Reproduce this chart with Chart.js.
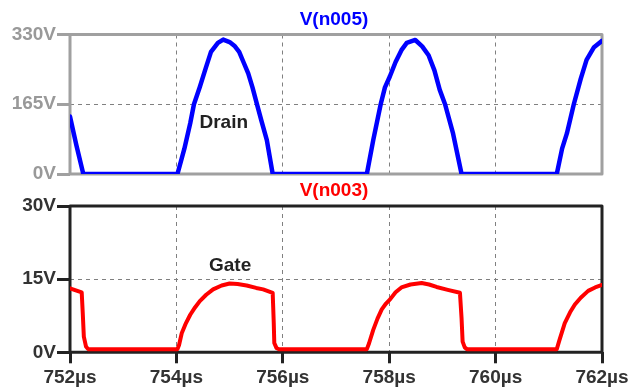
<!DOCTYPE html>
<html>
<head>
<meta charset="utf-8">
<script src="https://cdn.jsdelivr.net/npm/chart.js@4.4.1/dist/chart.umd.min.js"></script>
<style>
  html, body { margin: 0; padding: 0; background: #fff; }
  #wrap { position: relative; width: 629px; height: 391px; overflow: hidden; background: #fff; }
  canvas { position: absolute; left: 0; }
  #drainCanvas { top: 0; }
  #gateCanvas { top: 170px; }
</style>
</head>
<body>
<div id="wrap">
  <canvas id="drainCanvas" width="629" height="190"></canvas>
  <canvas id="gateCanvas" width="629" height="221"></canvas>
</div>
<script>
// Time axis (µs)
const timeTicks = [752, 754, 756, 758, 760, 762];

// V(n005) — drain voltage
const drainTime = [
  752.00, 752.12, 752.25, 754.02, 754.15, 754.26, 754.33, 754.44, 754.55, 754.65,
  754.78, 754.88, 755.00, 755.10, 755.18, 755.27, 755.35, 755.43, 755.51, 755.60,
  755.70, 755.81, 757.58, 757.70, 757.84, 757.92, 758.01, 758.12, 758.23, 758.33,
  758.49, 758.62, 758.74, 758.85, 758.95, 759.05, 759.20, 759.36, 761.15, 761.25,
  761.34, 761.47, 761.60, 761.71, 761.85, 762.00
];
const drainVolts = [
  136, 68, 0, 0, 60, 120, 165, 206, 250, 289,
  310, 318, 312, 302, 289, 262, 238, 205, 167, 125,
  80, 0, 0, 80, 165, 205, 230, 265, 293, 310,
  317, 302, 281, 245, 199, 165, 96, 0, 0, 60,
  96, 165, 225, 270, 300, 315
];
const drainTicks = [0, 165, 330];

// V(n003) — gate voltage
const gateTime = [
  752.00, 752.22, 752.24, 752.26, 752.30, 752.34, 754.02, 754.05, 754.10, 754.18,
  754.26, 754.35, 754.44, 754.56, 754.69, 754.85, 755.00, 755.15, 755.32, 755.50,
  755.63, 755.81, 755.83, 755.84, 755.88, 755.92, 757.58, 757.62, 757.70, 757.78,
  757.86, 757.94, 758.02, 758.12, 758.23, 758.40, 758.61, 758.75, 758.89, 759.10,
  759.33, 759.36, 759.38, 759.42, 759.46, 761.15, 761.20, 761.30, 761.40, 761.49,
  761.60, 761.74, 761.87, 762.00
];
const gateVolts = [
  13.1, 12.3, 8.0, 3.2, 1.2, 0.65, 0.65, 1.5, 3.9, 6.0,
  7.7, 9.2, 10.5, 11.8, 12.9, 13.7, 14.1, 14.0, 13.7, 13.2,
  12.9, 12.2, 6.0, 1.9, 0.9, 0.65, 0.65, 1.8, 4.6, 6.9,
  8.8, 10.0, 10.9, 12.3, 13.3, 13.9, 14.2, 13.9, 13.4, 12.8,
  12.2, 7.0, 2.2, 1.0, 0.65, 0.65, 2.5, 6.0, 8.2, 9.8,
  11.2, 12.6, 13.3, 13.8
];
const gateTicks = [0, 15, 30];

// Trace labels placed in data coordinates
const drainLabel = { text: 'Drain', t: 754.89, v: 121 };
const gateLabel = { text: 'Gate', t: 755.01, v: 17.7 };

const FONT = '"Liberation Sans", Arial, sans-serif';
Chart.defaults.font.family = FONT;

// Draws the plot frame under the trace, and the title and trace label on top
const framePlugin = {
  id: 'frame',
  beforeDatasetsDraw(chart, args, opts) {
    const { ctx, chartArea: a } = chart;
    ctx.save();
    ctx.strokeStyle = opts.color;
    ctx.lineWidth = 3;
    ctx.lineJoin = 'round';
    ctx.strokeRect(a.left, a.top, a.right - a.left, a.bottom - a.top);
    ctx.restore();
  },
  afterDraw(chart, args, opts) {
    const { ctx, chartArea: a, scales } = chart;
    ctx.save();
    ctx.font = 'bold 19px ' + FONT;
    ctx.textAlign = 'center';
    ctx.textBaseline = 'middle';
    ctx.fillStyle = opts.titleColor;
    ctx.fillText(opts.title, (a.left + a.right) / 2 - 2, a.top - opts.titleGap);
    const lbl = opts.label;
    ctx.fillStyle = '#222';
    ctx.fillText(lbl.text, scales.x.getPixelForValue(lbl.t), scales.y.getPixelForValue(lbl.v));
    ctx.restore();
  }
};

function makePlot(canvasId, cfg) {
  const points = cfg.time.map((t, i) => ({ x: t, y: cfg.volts[i] }));
  return new Chart(document.getElementById(canvasId), {
    type: 'line',
    data: {
      datasets: [{
        data: points,
        borderColor: cfg.color,
        borderWidth: cfg.width,
        pointRadius: 0,
        tension: 0,
        fill: false,
        borderJoinStyle: 'round',
        borderCapStyle: 'round'
      }]
    },
    options: {
      responsive: false,
      animation: false,
      events: [],
      layout: { padding: cfg.padding },
      plugins: {
        legend: { display: false },
        tooltip: { enabled: false },
        title: { display: false },
        frame: {
          color: cfg.frameColor,
          title: cfg.title,
          titleColor: cfg.color,
          titleGap: cfg.titleGap,
          label: cfg.label
        }
      },
      scales: {
        x: {
          type: 'linear',
          min: timeTicks[0],
          max: timeTicks[timeTicks.length - 1],
          afterBuildTicks: s => { s.ticks = timeTicks.map(v => ({ value: v })); },
          afterFit: s => { s.height = cfg.xHeight; s.paddingLeft = 0; s.paddingRight = 0; },
          border: { display: false, dash: [4, 4] },
          grid: {
            color: '#808080',
            lineWidth: 1,
            borderDash: [4, 4],
            drawTicks: cfg.showTime,
            tickLength: 11,
            tickWidth: 3,
            tickColor: cfg.frameColor,
            tickBorderDash: []
          },
          ticks: {
            display: cfg.showTime,
            padding: 3,
            color: '#333',
            font: { size: 19, weight: 'bold' },
            maxRotation: 0,
            callback: v => v + 'µs'
          }
        },
        y: {
          min: cfg.yTicks[0],
          max: cfg.yTicks[cfg.yTicks.length - 1],
          afterBuildTicks: s => { s.ticks = cfg.yTicks.map(v => ({ value: v })); },
          afterFit: s => { s.width = 70; s.paddingTop = 0; s.paddingBottom = 0; },
          border: { display: false, dash: [4, 4] },
          grid: {
            color: '#808080',
            lineWidth: 1,
            borderDash: [4, 4],
            drawTicks: true,
            tickLength: 13,
            tickWidth: 3,
            tickColor: cfg.frameColor,
            tickBorderDash: []
          },
          ticks: {
            padding: 1,
            color: cfg.tickColor,
            font: { size: 19, weight: 'bold' },
            callback: v => v + 'V'
          }
        }
      }
    },
    plugins: [framePlugin]
  });
}

makePlot('drainCanvas', {
  time: drainTime, volts: drainVolts, yTicks: drainTicks,
  color: '#0000ff', width: 4.5,
  frameColor: '#a0a0a0', tickColor: '#999999',
  title: 'V(n005)', titleGap: 14.5, label: drainLabel,
  showTime: false, xHeight: 0,
  padding: { top: 34.5, right: 27, bottom: 16, left: 0 }
});

makePlot('gateCanvas', {
  time: gateTime, volts: gateVolts, yTicks: gateTicks,
  color: '#ff0000', width: 4,
  frameColor: '#222222', tickColor: '#333333',
  title: 'V(n003)', titleGap: 15.5, label: gateLabel,
  showTime: true, xHeight: 38.7,
  padding: { top: 36, right: 27, bottom: 0, left: 0 }
});
</script>
</body>
</html>
